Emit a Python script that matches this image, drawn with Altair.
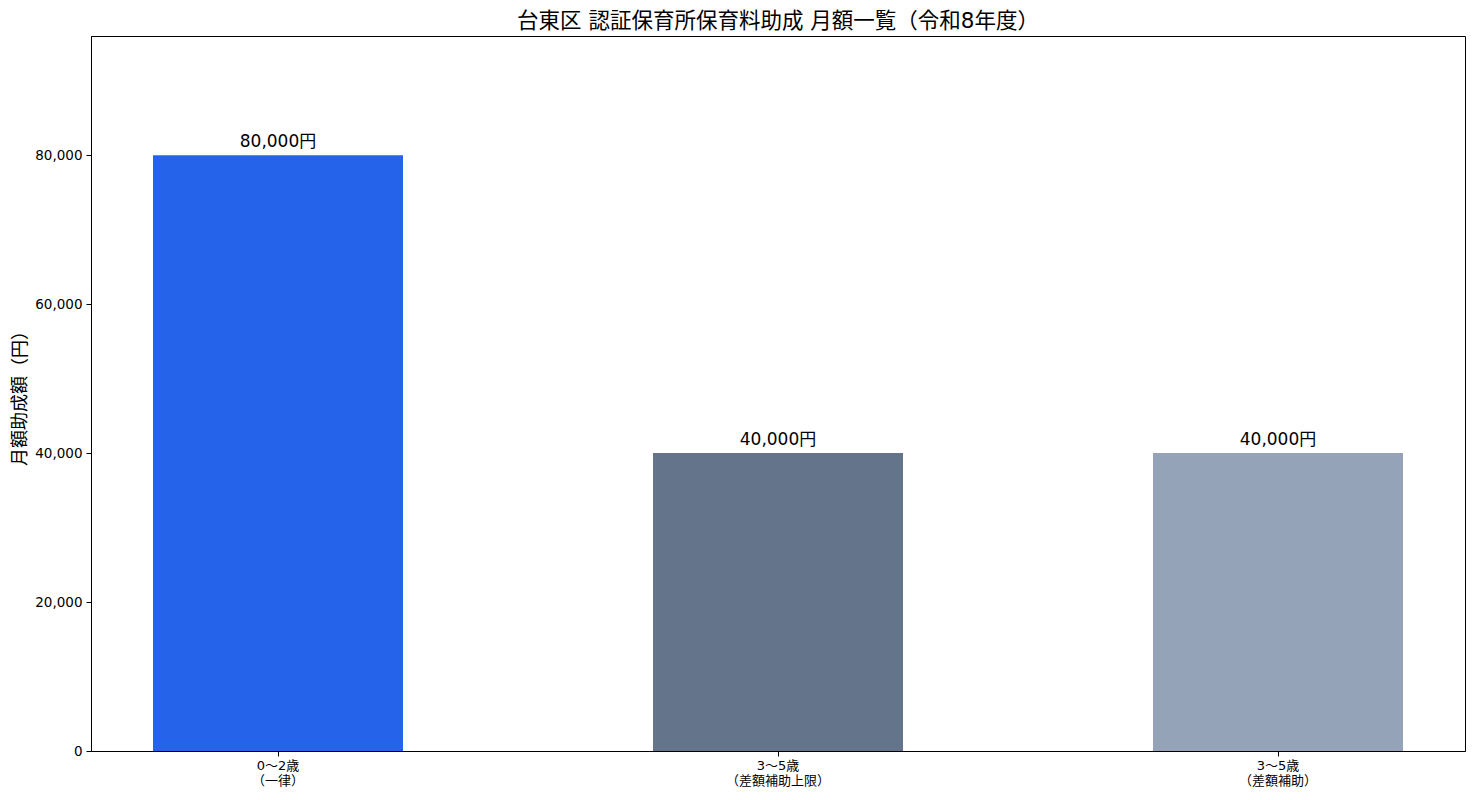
import altair as alt
import pandas as pd

categories = ["0〜2歳|（一律）", "3〜5歳|（差額補助上限）", "3〜5歳|（差額補助）"]
amounts = [80000, 40000, 40000]
labels = ["80,000円", "40,000円", "40,000円"]
colors = ["#2563eb", "#64748b", "#94a3b8"]
y_ticks = [0, 20000, 40000, 60000, 80000]

df = pd.DataFrame({"cat": categories, "amount": amounts, "label": labels, "color": colors})

FONT = "DejaVu Sans, Noto Sans CJK JP"

x = alt.X("cat:N", sort=categories, title=None,
          scale=alt.Scale(paddingInner=0.5, paddingOuter=0.124),
          axis=alt.Axis(labelAngle=0, labelExpr="split(datum.label, '|')",
                        labelFontSize=13, labelColor="#000", labelFont=FONT,
                        tickColor="#000", tickSize=5, domainColor="#000",
                        labelPadding=3, labelLineHeight=15))
y = alt.Y("amount:Q", title="月額助成額（円）",
          scale=alt.Scale(domain=[0, 96000], nice=False),
          axis=alt.Axis(values=y_ticks, labelExpr="format(datum.value, ',.0f')",
                        grid=False, labelFontSize=13.5, labelColor="#000", labelFont=FONT,
                        tickColor="#000", tickSize=5, domainColor="#000",
                        titleFontSize=18, titleFont=FONT, titleFontWeight="normal",
                        titleColor="#000", titleX=-71, titleBaseline="middle",
                        labelPadding=4))

bars = alt.Chart(df).mark_bar().encode(
    x=x, y=y, color=alt.Color("color:N", scale=None)
)
text = alt.Chart(df).mark_text(baseline="bottom", dy=-4, fontSize=17, font=FONT, color="#000").encode(
    x=alt.X("cat:N", sort=categories), y="amount:Q", text="label:N"
)

chart = (bars + text).properties(
    width=1374, height=715,
    title=alt.TitleParams("台東区 認証保育所保育料助成 月額一覧（令和8年度）",
                          fontSize=21.5, font=FONT, fontWeight="normal", color="#000",
                          anchor="middle", offset=4),
    autosize=alt.AutoSizeParams(type="none"),
    padding={"left": 83, "top": 28, "right": 2, "bottom": 41},
).configure_view(stroke="#000", strokeWidth=1)

chart.save("out.html", embed_options={"renderer": "svg", "actions": False})
